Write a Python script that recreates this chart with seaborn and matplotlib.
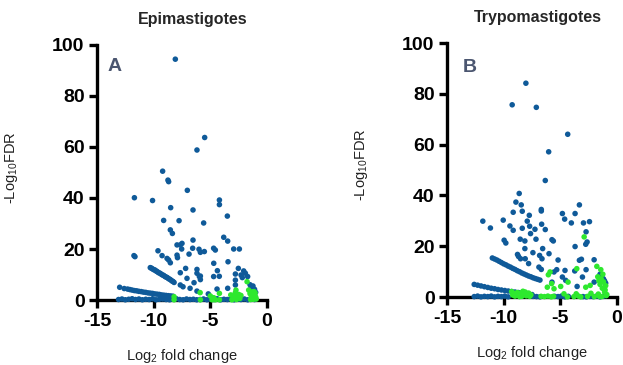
import numpy as np
import pandas as pd
import matplotlib
matplotlib.use("Agg")
import matplotlib.pyplot as plt
import seaborn as sns

# ---- data (Log2 fold change, -Log10 FDR) ----
# Epimastigotes, significant (blue)
epi_blue_x = [-8.09, -5.5, -6.18, -9.21, -8.74, -8.68, -7.03, -11.7, -10.1, -4.2, -4.2,
              -8.5, -6.53, -3.5, -9.12, -7.76, -5.59, -8.53, -8.35, -3.82, -3.47, -6.53,
              -7.5, -7.94, -7.65, -9.62, -7.53, -6.56, -6.0, -5.88, -5.53, -4.71, -4.56,
              -2.94, -2.44, -11.74, -11.65, -9.26, -8.82, -8.68, -8.53, -7.94, -7.9, -6.88,
              -4.7, -3.44, -7.18, -6.18, -6.18, -5.97, -5.88, -7.65, -4.38, -2.53, -2.06,
              -1.91, -2.79, -2.29, -2.18, -1.71, -1.24, -5.88, -4.71, -4.21, -7.06, -6.44,
              -7.65, -7.41, -6.79, -2.79, -2.79, -3.47, -4.41, -1.41, -1.18, -5.18, -6.18,
              -1.3, -1.1, -1.5, -1.0,
              # upper diagonal streak
              -10.3, -10.2, -10.1, -10.0, -9.9, -9.8, -9.7, -9.6, -9.5, -9.4, -9.3, -9.2,
              -9.1, -9.0, -8.9, -8.8, -8.7, -8.6, -8.5, -8.4, -8.3, -8.2,
              # lower diagonal streak
              -13.0, -12.6, -12.3, -12.1, -11.9, -11.7, -11.5, -11.3, -11.1, -10.9, -10.7,
              -10.5, -10.3, -10.1, -9.9, -9.7, -9.5, -9.3, -9.1, -8.9, -8.7, -8.5, -8.3,
              # points along zero
              -13.1, -12.8, -12.5, -12.2, -11.9, -11.6, -11.3, -11.0, -10.7, -10.4, -10.1,
              -9.8, -9.5, -9.2, -8.9, -8.6, -8.3, -8.0, -7.7, -7.4, -7.1, -6.8, -6.5, -6.2,
              -5.9, -5.6, -5.3, -5.0, -4.7, -4.4, -4.1, -3.8, -3.5, -3.2, -2.9, -2.6, -2.3,
              -2.0, -1.7, -1.4, -1.1]
epi_blue_y = [94.4, 63.7, 58.8, 50.5, 47.0, 46.4, 43.0, 40.1, 39.0, 39.2, 37.4,
              36.2, 35.3, 32.9, 31.2, 31.1, 30.2, 27.5, 26.1, 24.6, 23.1, 23.5,
              22.2, 21.6, 21.6, 19.3, 20.0, 20.3, 19.9, 18.7, 19.0, 20.3, 19.6,
              20.0, 20.0, 17.4, 17.0, 17.4, 16.3, 15.7, 14.6, 17.6, 16.6, 18.0,
              14.4, 15.0, 12.4, 12.0, 10.5, 9.2, 9.4, 10.7, 11.5, 12.4, 11.4,
              10.5, 10.2, 9.8, 8.8, 9.2, 5.5, 8.0, 9.2, 9.3, 8.5, 6.8,
              5.9, 5.2, 4.6, 7.8, 5.9, 4.6, 4.3, 4.6, 3.9, 2.4, 3.5,
              5.0, 4.2, 6.0, 3.0,
              12.7, 12.5, 12.2, 11.9, 11.8, 11.4, 11.2, 10.8, 10.6, 10.4, 10.0, 9.8,
              9.6, 9.2, 9.0, 8.8, 8.4, 8.2, 7.9, 7.5, 7.3, 6.9,
              5.0, 4.5, 4.3, 4.1, 3.9, 3.7, 3.6, 3.4, 3.3, 3.1, 3.0,
              2.8, 2.7, 2.6, 2.4, 2.3, 2.2, 2.0, 1.9, 1.8, 1.7, 1.6, 1.5,
              0.2, 0.4, 0.1, 0.3, 0.5, 0.2, 0.4, 0.1, 0.3, 0.2, 0.5,
              0.1, 0.3, 0.4, 0.2, 0.1, 0.3, 0.5, 0.2, 0.1, 0.4, 0.2, 0.3, 0.1,
              0.2, 0.4, 0.1, 0.3, 0.2, 0.5, 0.1, 0.3, 0.2, 0.4, 0.1, 0.3, 0.2,
              0.4, 0.1, 0.3, 0.2]

# Epimastigotes, highlighted (green)
epi_green_x = [-8.2, -8.2, -5.9, -5.88, -5.0, -4.7, -4.85, -4.56, -4.2, -4.2,
               -3.2, -3.0, -2.9, -2.8, -2.7, -2.6, -2.5, -2.4, -2.3, -3.1, -2.74,
               -1.76, -1.62, -1.5, -1.4, -1.3, -1.2, -1.1, -1.0, -0.95, -1.45, -1.25,
               -1.15, -1.35, -1.05]
epi_green_y = [1.3, 0.1, 2.9, 0.1, 1.6, 0.9, 0.1, 0.1, 2.6, 0.1,
               2.0, 0.5, 1.5, 2.8, 0.2, 1.0, 2.2, 0.6, 1.8, 0.1, 3.9,
               7.2, 3.9, 2.5, 1.0, 3.2, 0.3, 2.0, 1.2, 0.4, 0.2, 1.5,
               3.3, 2.2, 2.8]

# Trypomastigotes, significant (blue)
try_blue_x = [-8.04, -9.25, -7.12, -4.35, -6.03, -6.33, -8.63, -8.92, -8.45, -6.68, -6.68,
              -4.82, -4.62, -3.7, -3.32, -4.03, -2.96, -2.43, -9.16, -8.36, -7.74, -7.92,
              -11.84, -10.04, -11.17, -9.45, -9.16, -8.36, -7.71, -7.24, -6.65, -6.33, -2.73,
              -8.54, -7.63, -8.13, -7.15, -5.74, -5.62, -9.96, -9.81, -2.64, -2.76, -3.7,
              -6.56, -8.13, -7.42, -8.78, -8.69, -8.51, -6.83, -6.62, -6.0, -8.1, -5.2,
              -3.32, -3.14, -2.02, -7.8, -6.89, -6.68, -5.32, -4.59, -2.73, -3.73, -4.82,
              -3.05, -3.52, -5.56, -4.53, -5.74, -2.02, -1.5, -1.35, -1.2, -1.1, -1.0,
              # upper diagonal streak
              -11.0, -10.8, -10.6, -10.4, -10.2, -10.0, -9.8, -9.6, -9.4, -9.2, -9.0,
              -8.8, -8.6, -8.4, -8.2, -8.0, -7.8, -7.6, -7.4, -7.2, -7.0, -6.8,
              # lower diagonal streak
              -12.6, -12.3, -12.0, -11.7, -11.4, -11.1, -10.8, -10.5, -10.2, -9.9,
              -9.6, -9.3, -9.0, -8.7, -8.4, -8.1, -7.8, -7.5,
              # points along zero
              -12.6, -12.3, -12.0, -11.7, -11.4, -11.1, -10.8, -10.5, -10.2, -9.9, -9.6,
              -7.4, -7.1, -6.8, -5.5, -5.2, -4.9, -4.6, -4.3, -3.0, -2.7, -2.4, -2.1,
              -1.8, -1.5, -1.2]
try_blue_y = [84.2, 75.7, 74.7, 64.1, 57.2, 45.9, 40.8, 37.4, 36.3, 34.5, 33.9,
              32.9, 30.7, 32.9, 36.3, 29.2, 29.2, 29.7, 33.4, 33.8, 32.2, 29.9,
              29.9, 30.3, 27.2, 28.0, 26.3, 27.1, 27.9, 26.7, 28.7, 26.6, 25.7,
              22.8, 25.0, 22.1, 22.8, 22.6, 22.1, 22.4, 21.3, 21.7, 20.8, 19.9,
              19.1, 19.1, 17.5, 16.8, 16.0, 15.1, 16.4, 15.1, 17.1, 15.1, 14.6,
              14.5, 14.9, 14.7, 13.2, 11.8, 10.9, 10.8, 10.5, 10.8, 10.3, 7.9,
              7.9, 4.2, 9.9, 6.6, 5.9, 5.9, 9.0, 8.2, 7.2, 6.4, 5.5,
              15.4, 15.0, 14.6, 14.1, 13.6, 13.1, 12.7, 12.2, 11.8, 11.3, 10.9,
              10.4, 10.0, 9.5, 9.1, 8.7, 8.3, 8.0, 7.6, 7.3, 7.0, 6.7,
              5.0, 4.7, 4.4, 4.1, 3.8, 3.5, 3.3, 3.0, 2.8, 2.6,
              2.4, 2.2, 2.0, 1.8, 1.6, 1.4, 1.2, 1.0,
              0.2, 0.4, 0.1, 0.3, 0.2, 0.4, 0.1, 0.3, 0.2, 0.4, 0.1,
              0.3, 0.2, 0.1, 0.3, 0.2, 0.4, 0.1, 0.3, 0.2, 0.1, 0.3, 0.2,
              0.4, 0.1, 0.3]

# Trypomastigotes, highlighted (green)
try_green_x = [-9.3, -9.1, -9.0, -8.8, -8.7, -8.5, -8.4, -8.2, -8.1, -8.0, -7.9, -7.8,
               -7.7, -7.6, -9.2, -8.6, -8.3,
               -5.91, -6.06, -5.77, -6.15, -5.56, -6.7, -6.4, -6.1, -5.8, -5.6,
               -4.97, -4.32, -3.55, -4.68, -4.38, -3.8, -3.6, -3.4, -3.2,
               -2.9, -2.76, -2.37, -2.6, -2.3, -2.0, -1.78, -1.43,
               -1.7, -1.6, -1.5, -1.4, -1.3, -1.2, -1.1, -1.0, -0.9, -1.55, -1.25, -1.05,
               -1.65, -1.35, -1.15, -0.95]
try_green_y = [2.2, 1.5, 0.4, 1.8, 0.8, 1.6, 0.3, 1.2, 2.0, 0.5, 1.0, 1.6,
               0.3, 0.9, 0.8, 0.2, 2.3,
               9.9, 8.8, 5.3, 3.9, 3.3, 0.3, 0.2, 0.4, 0.1, 0.3,
               4.2, 5.9, 11.2, 1.3, 0.1, 0.2, 1.3, 0.4, 0.1,
               23.7, 3.9, 4.6, 0.3, 1.5, 0.2, 12.1, 10.8,
               8.0, 6.5, 5.0, 7.2, 3.5, 6.0, 2.0, 4.5, 1.0, 0.3, 9.0, 2.8,
               1.2, 0.2, 3.2, 0.6]

panels = [
    ("Epimastigotes", "A", epi_blue_x, epi_blue_y, epi_green_x, epi_green_y),
    ("Trypomastigotes", "B", try_blue_x, try_blue_y, try_green_x, try_green_y),
]

sns.set_style("ticks")
plt.rcParams["font.family"] = ["Liberation Sans", "DejaVu Sans"]
plt.rcParams["axes.unicode_minus"] = False
plt.rcParams["mathtext.default"] = "regular"

blue = "#0f5a99"
green = "#2ee82e"

fig = plt.figure(figsize=(6.23, 3.65), dpi=100)
axes_pos = [[0.1557, 0.178, 0.2729, 0.699], [0.7175, 0.186, 0.2729, 0.696]]
title_x = [0.565, 0.535]
letter_pos = [(0.106, 0.914), (0.135, 0.905)]

for i, (title, letter, bx, by, gx, gy) in enumerate(panels):
    ax = fig.add_axes(axes_pos[i])
    df = pd.concat([
        pd.DataFrame({"lfc": bx, "fdr": by, "group": "sig"}),
        pd.DataFrame({"lfc": gx, "fdr": gy, "group": "hl"}),
    ], ignore_index=True)
    sns.scatterplot(data=df, x="lfc", y="fdr", hue="group",
                    palette={"sig": blue, "hl": green}, s=16, linewidth=0,
                    legend=False, ax=ax, clip_on=False, zorder=4)
    ax.set_xlim(-15, 0)
    ax.set_ylim(0, 100)
    ax.set_xticks([-15, -10, -5, 0])
    ax.set_yticks([0, 20, 40, 60, 80, 100])
    sns.despine(ax=ax)
    for sp in ["left", "bottom"]:
        ax.spines[sp].set_linewidth(2.4)
        ax.spines[sp].set_color("black")
        ax.spines[sp].set_zorder(3)
    ax.tick_params(width=2.4, length=6, labelsize=14, pad=3,
                   color="black", labelcolor="black")
    for lab in ax.get_xticklabels() + ax.get_yticklabels():
        lab.set_fontweight("bold")
    ax.set_xlabel("Log$_2$ fold change", fontsize=10.5, color="#222222")
    ax.set_ylabel("-Log$_{10}$FDR", fontsize=10.5, color="#222222")
    ax.xaxis.set_label_coords(0.5, -0.185)
    ax.yaxis.set_label_coords(-0.453, 0.52)
    ax.text(title_x[i], 1.1, title, transform=ax.transAxes, ha="center",
            va="center", fontsize=11.5, fontweight="bold")
    ax.text(letter_pos[i][0], letter_pos[i][1], letter, transform=ax.transAxes,
            ha="center", va="center", fontsize=14, fontweight="bold", color="#4b5670")

fig.savefig("out.png", dpi=100)
